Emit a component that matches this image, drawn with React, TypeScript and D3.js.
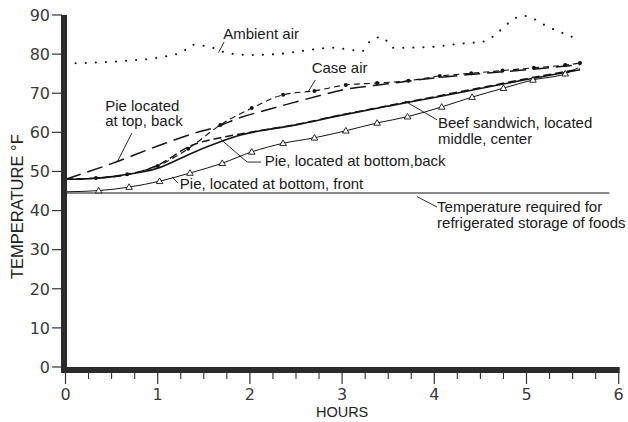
import React from "react";
import * as d3 from "d3";

// Hours after the case was switched off, and temperatures in °F.
const ambientHours = [0, 0.6, 1.0, 1.27, 1.38, 1.6, 1.75, 2.0, 2.3, 2.5, 2.9, 3.22, 3.3, 3.43, 3.5, 3.55, 3.95, 4.25, 4.57, 4.66, 4.96, 5.26, 5.58];
const ambientTemp = [77.6, 78.2, 79.1, 80.6, 82.4, 81.6, 80.3, 79.8, 80.0, 80.6, 81.6, 80.8, 83.2, 84.4, 82.9, 81.6, 81.8, 82.6, 83.4, 85.0, 89.8, 86.7, 83.6];

const caseHours = [0, 0.33, 0.67, 1.0, 1.33, 1.68, 2.02, 2.36, 2.7, 3.04, 3.38, 3.72, 4.06, 4.4, 4.74, 5.08, 5.42, 5.58];
const caseTemp = [48.0, 48.3, 49.3, 51.4, 55.8, 61.9, 66.2, 69.6, 70.6, 72.1, 72.6, 73.2, 74.4, 75.1, 75.8, 76.5, 77.2, 77.7];

const pieTopHours = [0, 0.5, 1.0, 1.4, 1.64, 1.86, 2.18, 2.47, 2.76, 3.0, 3.5, 4.0, 4.5, 5.0, 5.58];
const pieTopTemp = [48.0, 52.0, 56.5, 59.8, 61.4, 63.5, 65.7, 67.6, 69.4, 70.8, 72.4, 73.9, 75.0, 76.0, 77.3];

const beefHours = [0, 0.3, 0.6, 1.0, 1.4, 1.9, 2.5, 3.0, 3.5, 4.0, 4.5, 5.0, 5.58];
const beefTemp = [48.0, 48.2, 49.0, 50.8, 55.0, 59.3, 61.9, 64.4, 66.7, 68.9, 71.2, 73.5, 76.0];

const pieBackHours = [0, 0.5, 1.0, 1.38, 1.68, 1.9, 2.5, 3.0, 3.5, 4.0, 4.5, 5.0, 5.58];
const pieBackTemp = [48.0, 48.6, 51.6, 56.8, 58.6, 59.6, 62.0, 64.5, 66.8, 69.1, 71.4, 73.7, 76.2];

const pieFrontHours = [0, 0.36, 0.69, 1.02, 1.35, 1.7, 2.02, 2.36, 2.7, 3.04, 3.38, 3.71, 4.08, 4.41, 4.75, 5.07, 5.42, 5.56];
const pieFrontTemp = [44.8, 45.1, 46.0, 47.5, 49.6, 52.1, 55.0, 57.2, 58.6, 60.4, 62.4, 64.0, 66.5, 69.0, 71.3, 73.4, 75.0, 76.5];

const requiredHours = [0, 5.9];
const requiredTemp = [44.5, 44.5];

const yTicks = [0, 10, 20, 30, 40, 50, 60, 70, 80, 90];
const xTicks = [0, 1, 2, 3, 4, 5, 6];

const W = 628;
const H = 422;
const FONT = "'Liberation Sans', Arial, sans-serif";
const TICK_FONT = "'DejaVu Sans', Verdana, sans-serif";
const INK = "#141414";

const x = d3.scaleLinear().domain([0, 6]).range([65.5, 618.7]);
const y = d3.scaleLinear().domain([0, 90]).range([367, 15]);

type Pt = [number, number];
const zip = (hs: number[], vs: number[]): Pt[] => hs.map((h, i) => [h, vs[i]]);
const line = d3
  .line<Pt>()
  .x((d) => x(d[0]))
  .y((d) => y(d[1]))
  .curve(d3.curveMonotoneX);
const straight = d3
  .line<Pt>()
  .x((d) => x(d[0]))
  .y((d) => y(d[1]));

// Leader lines from each label to its curve, in hours / °F.
const leaders: Pt[][] = [
  [[1.66, 80.4], [1.72, 83.1]],
  [[2.71, 73.4], [2.63, 70.3]],
  [[0.72, 59.8], [0.56, 52.4]],
  [[2.12, 52.4], [1.97, 52.4], [1.68, 58.3]],
  [[1.22, 47.0], [1.155, 48.6]],
  [[4.03, 63.2], [3.68, 68.0]],
  [[3.81, 43.6], [4.03, 40.9]],
];

type Label = { h: number; v: number; lines: string[] };
const labels: Label[] = [
  { h: 1.71, v: 83.9, lines: ["Ambient air"] },
  { h: 2.67, v: 75.2, lines: ["Case air"] },
  { h: 0.43, v: 65.5, lines: ["Pie located", "at top, back"] },
  { h: 2.16, v: 51.4, lines: ["Pie, located at bottom,back"] },
  { h: 1.24, v: 45.5, lines: ["Pie, located at bottom, front"] },
  { h: 4.04, v: 61.1, lines: ["Beef sandwich, located", "middle, center"] },
  { h: 4.03, v: 39.6, lines: ["Temperature required for", "refrigerated storage of foods"] },
];

function Triangle({ cx, cy }: { cx: number; cy: number }) {
  const s = 3.3;
  return (
    <path
      d={`M${cx},${cy - s} L${cx + s},${cy + s * 0.7} L${cx - s},${cy + s * 0.7} Z`}
      fill="#fff"
      stroke={INK}
      strokeWidth={0.9}
    />
  );
}

export default function App() {
  const minor = d3.range(0, 6.001, 0.25).filter((t) => Math.abs(t - Math.round(t)) > 1e-6);
  const pieFront = zip(pieFrontHours, pieFrontTemp);
  const casePts = zip(caseHours, caseTemp);
  return (
    <svg
      width={W}
      height={H}
      viewBox={`0 0 ${W} ${H}`}
      style={{ position: "absolute", left: 0, top: 0, background: "#fff" }}
    >
      <rect width={W} height={H} fill="#fff" />

      {/* y ticks and labels */}
      {yTicks.map((t) => (
        <g key={`y${t}`}>
          <line x1={52} x2={62} y1={y(t)} y2={y(t)} stroke="#333" strokeWidth={1.2} />
          <text
            x={50}
            y={y(t)}
            dy="0.36em"
            textAnchor="end"
            fontFamily={TICK_FONT}
            fontSize={16}
            fill="#3a3a3a"
          >
            {t}
          </text>
        </g>
      ))}

      {/* x ticks and labels */}
      {minor.map((t) => (
        <line key={`m${t}`} x1={x(t)} x2={x(t)} y1={372} y2={379} stroke="#333" strokeWidth={1.1} />
      ))}
      {xTicks.map((t) => (
        <g key={`x${t}`}>
          <line x1={x(t)} x2={x(t)} y1={372} y2={384} stroke="#333" strokeWidth={1.2} />
          <text x={x(t)} y={400} textAnchor="middle" fontFamily={TICK_FONT} fontSize={16} fill="#3a3a3a">
            {t}
          </text>
        </g>
      ))}

      <text x={x(3)} y={417} textAnchor="middle" fontFamily={FONT} fontSize={14.5} fill="#222">
        HOURS
      </text>
      <text
        transform={`translate(23, ${y(41)}) rotate(-90)`}
        textAnchor="middle"
        fontFamily={FONT}
        fontSize={16.5}
        fill="#222"
      >
        TEMPERATURE °F
      </text>

      {/* refrigerated storage limit */}
      <path d={straight(zip(requiredHours, requiredTemp)) ?? ""} fill="none" stroke={INK} strokeWidth={1.1} />

      {/* ambient air */}
      <path
        d={line(zip(ambientHours, ambientTemp)) ?? ""}
        fill="none"
        stroke={INK}
        strokeWidth={2}
        strokeLinecap="round"
        strokeDasharray="0.1 10"
      />

      {/* pie at top, back */}
      <path
        d={line(zip(pieTopHours, pieTopTemp)) ?? ""}
        fill="none"
        stroke={INK}
        strokeWidth={1.5}
        strokeDasharray="16 7"
      />

      {/* case air */}
      <path
        d={line(casePts) ?? ""}
        fill="none"
        stroke={INK}
        strokeWidth={1.1}
        strokeDasharray="6 4"
      />
      {casePts.slice(1).map((d, i) => (
        <circle key={`c${i}`} cx={x(d[0])} cy={y(d[1])} r={2} fill={INK} />
      ))}

      {/* pie at bottom, back */}
      <path
        d={line(zip(pieBackHours, pieBackTemp)) ?? ""}
        fill="none"
        stroke={INK}
        strokeWidth={1.5}
        strokeDasharray="8 4"
      />

      {/* beef sandwich */}
      <path d={line(zip(beefHours, beefTemp)) ?? ""} fill="none" stroke={INK} strokeWidth={1.6} />

      {/* pie at bottom, front */}
      <path d={line(pieFront) ?? ""} fill="none" stroke={INK} strokeWidth={1} />
      {pieFront.slice(1, -1).map((d, i) => (
        <Triangle key={`t${i}`} cx={x(d[0])} cy={y(d[1])} />
      ))}

      {/* leaders and labels */}
      {leaders.map((pts, i) => (
        <path key={`l${i}`} d={straight(pts) ?? ""} fill="none" stroke={INK} strokeWidth={0.9} />
      ))}
      {labels.map((lb, i) => (
        <text key={`lb${i}`} fontFamily={FONT} fontSize={15} fill="#1a1a1a">
          {lb.lines.map((s, j) => (
            <tspan key={j} x={x(lb.h)} y={y(lb.v) + j * 15.5}>
              {s}
            </tspan>
          ))}
        </text>
      ))}

      {/* axis bars */}
      <rect x={61} y={y(90)} width={6} height={y(0) - y(90) + 6} fill="#2b2b2b" />
      <rect x={61} y={y(0)} width={x(6) - 61 + 1} height={6} fill="#2b2b2b" />
    </svg>
  );
}
